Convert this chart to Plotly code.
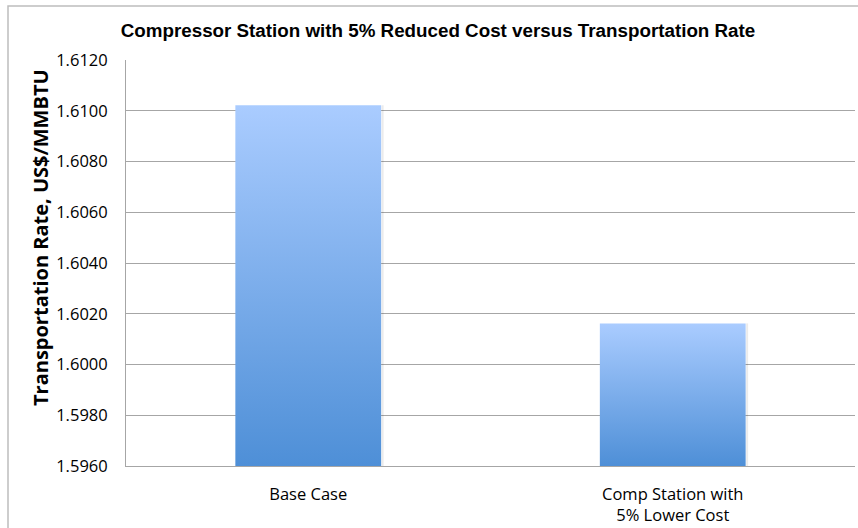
import plotly.graph_objects as go

# Chart data
categories = ["Base Case", "Comp Station with<br>5% Lower Cost"]
rates = [1.61022, 1.60162]          # US$/MMBTU
y_min, y_max, y_step = 1.5960, 1.6120, 0.0020

title_text = "Compressor Station with 5% Reduced Cost versus Transportation Rate"
y_title = "Transportation Rate, US$/MMBTU"

W, H = 858, 528
M_L, M_R, M_T, M_B = 126, 3, 60, 62
BAR_W = 0.40

fig = go.Figure()

# Bars drawn as filled polygons so that each one carries a vertical gradient
for i, (cat, val) in enumerate(zip(categories, rates)):
    x0, x1 = i - BAR_W / 2, i + BAR_W / 2
    fig.add_trace(go.Scatter(
        x=[x0, x0, x1, x1, x0],
        y=[y_min, val, val, y_min, y_min],
        mode="lines",
        fill="toself",
        fillgradient=dict(type="vertical",
                          colorscale=[[0, "#4E8FD7"], [1, "#AACCFF"]]),
        line=dict(width=0, color="rgba(0,0,0,0)"),
        name=cat.replace("<br>", " "),
        hovertemplate=f"{cat.replace('<br>', ' ')}: {val:.4f}<extra></extra>",
        showlegend=False,
    ))
    # soft shadow along the right edge of the bar
    fig.add_trace(go.Scatter(
        x=[x1 + 0.004, x1 + 0.004], y=[y_min, val],
        mode="lines", line=dict(width=2, color="rgba(0,0,0,0.08)"),
        hoverinfo="skip", showlegend=False,
    ))

plot_w = W - M_L - M_R
plot_h = H - M_T - M_B

def px_x(p):
    return (p - M_L) / plot_w

def px_y(p):
    return (H - M_B - p) / plot_h

fig.update_layout(
    width=W, height=H,
    margin=dict(l=M_L, r=M_R, t=M_T, b=M_B),
    paper_bgcolor="white", plot_bgcolor="white",
    font=dict(family="Open Sans", size=16.5, color="#000000"),
    title=dict(text=f"<b>{title_text}</b>",
               font=dict(family="Liberation Sans", size=18.8, color="#000000"),
               x=438 / W, xref="container", xanchor="center",
               y=1 - 30 / H, yanchor="middle"),
    xaxis=dict(range=[-0.5, 1.5], tickvals=list(range(len(categories))),
               ticktext=categories, showgrid=False, zeroline=False,
               showline=True, linecolor="#A6A6A6", linewidth=1,
               ticks="", ticklabelstandoff=13, fixedrange=True),
    yaxis=dict(range=[y_min, y_max], dtick=y_step, tick0=y_min,
               tickformat=".4f", showgrid=True, gridcolor="#A6A6A6",
               gridwidth=1, zeroline=False, showline=True,
               linecolor="#A6A6A6", linewidth=1, ticks="",
               ticklabelstandoff=14, fixedrange=True),
    annotations=[dict(text=f"<b>{y_title}</b>", textangle=-90,
                      xref="paper", yref="paper",
                      x=px_x(40), y=px_y(238),
                      xanchor="center", yanchor="middle", showarrow=False,
                      font=dict(family="Open Sans", size=20, color="#000000"))],
    shapes=[dict(type="rect", xref="paper", yref="paper",
                 x0=px_x(8), x1=px_x(W + 20), y0=px_y(H + 20), y1=px_y(6),
                 line=dict(color="#BDBDBD", width=1.5),
                 fillcolor="rgba(0,0,0,0)", layer="below")],
)

fig.write_html("out.html")
